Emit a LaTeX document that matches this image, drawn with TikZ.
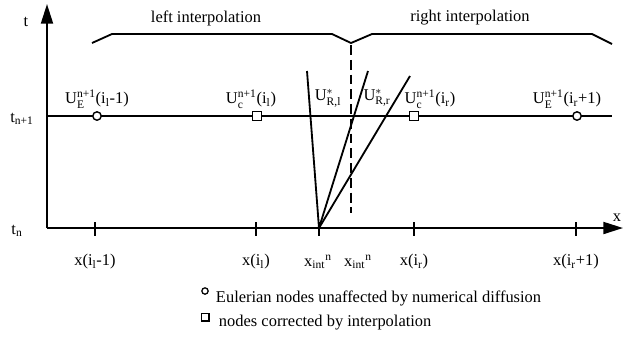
\documentclass[tikz,border=0pt]{standalone}
\usepackage{amsmath}
\usepackage{fontspec}
\setmainfont{Liberation Serif}
\usetikzlibrary{arrows.meta, positioning}

\begin{document}
\begin{tikzpicture}[x=0.025cm, y=-0.025cm, font=\fontsize{11.7}{13}\selectfont,
    axis/.style={line width=1.5pt, -{Triangle[length=14pt, width=8.5pt]}},
    ln/.style={line width=1.3pt},
    euler/.style={draw, circle, fill=white, inner sep=0pt, minimum size=6pt, line width=1pt},
    corr/.style={draw, rectangle, fill=white, inner sep=0pt, minimum size=6.3pt, line width=1pt}]
    \useasboundingbox (0,0) rectangle (623,345);

    % axes
    \coordinate (O) at (47,228);
    \coordinate (ytop) at (47,4);
    \coordinate (xend) at (623,228);
    \draw[axis] (O) -- (ytop);
    \draw[axis] (O) -- (xend);
    \node (tlab) at (26,22) {t};
    \node (xlab) at (617,218) {x};
    \node (tn) at (17,231) {t\textsubscript{n}};
    \node (tn1) at (22,119) {t\textsubscript{n+1}};

    % level n+1
    \coordinate (L0) at (47,116);
    \coordinate (L1) at (612,116);
    \draw[ln] (L0) -- (L1);

    % ticks
    \foreach \x in {95,256,319,414,576}
        \draw[ln] (\x,222) -- (\x,236);

    % waves from the interface
    \coordinate (pint) at (319,228);
    \coordinate (fl) at (307,71);
    \coordinate (fm) at (368,71);
    \coordinate (fr) at (410,76);
    \draw[ln] (pint) -- (fl);
    \draw[ln] (pint) -- (fm);
    \draw[ln] (pint) -- (fr);
    \coordinate (dtop) at (351,45);
    \coordinate (dbot) at (351,213);
    \draw[ln, dash pattern=on 7pt off 3.5pt] (dtop) -- (dbot);

    % brace
    \draw[ln] (92,43) -- (112,34) -- (332,34) -- (351,43) -- (372,34) -- (592,34) -- (612,44);
    \node (left) at (206,18) {left interpolation};
    \node (right) at (470,18) {right interpolation};

    % nodes on level n+1
    \node[euler] (el) at (97,116) {};
    \node[corr] (cl) at (257,116) {};
    \node[corr] (cr) at (414,116) {};
    \node[euler] (er) at (577,116) {};

    \node (Uel) at (97,99) {$\text{U}^{\text{n+1}}_{\text{E}}$(i\textsubscript{l}-1)};
    \node (Ucl) at (251,99) {$\text{U}^{\text{n+1}}_{\text{c}}$(i\textsubscript{l})};
    \node (URl) at (328,98) {$\text{U}^{*}_{\text{R,l}}$};
    \node (URr) at (377,98) {$\text{U}^{*}_{\text{R,r}}$};
    \node (Ucr) at (430,99) {$\text{U}^{\text{n+1}}_{\text{c}}$(i\textsubscript{r})};
    \node (Uer) at (567,99) {$\text{U}^{\text{n+1}}_{\text{E}}$(i\textsubscript{r}+1)};

    % x labels
    \node (x1) at (95,262) {x(i\textsubscript{l}-1)};
    \node (x2) at (256,262) {x(i\textsubscript{l})};
    \node (x3) at (318,262) {x\textsubscript{int}\textsuperscript{n}};
    \node (x4) at (358,262) {x\textsubscript{int}\textsuperscript{n}};
    \node (x5) at (414,262) {x(i\textsubscript{r})};
    \node (x6) at (576,262) {x(i\textsubscript{r}+1)};

    % legend
    \node[euler, minimum size=4.5pt, line width=0.9pt] (lege) at (205,291) {};
    \node[anchor=west] (legetxt) at (211,298) {Eulerian nodes unaffected by numerical diffusion};
    \node[corr, minimum size=5.5pt, line width=0.9pt] (legc) at (205,317) {};
    \node[anchor=west] (legctxt) at (214,323) {nodes corrected by interpolation};
\end{tikzpicture}
\end{document}
